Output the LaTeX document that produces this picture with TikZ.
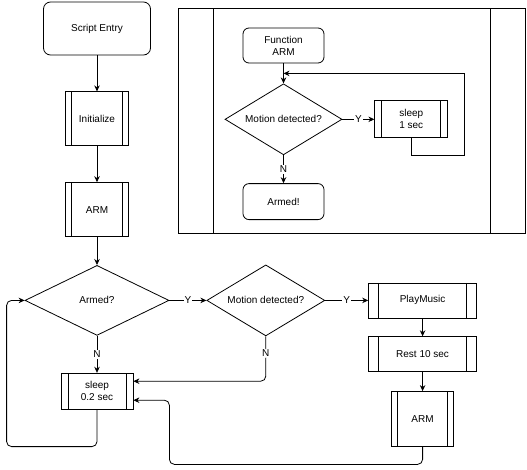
\documentclass[tikz,border=0pt]{standalone}
\usepackage{fontspec}
\setmainfont{Liberation Sans}
\usetikzlibrary{arrows.meta,positioning,shapes.geometric,calc}

\begin{document}
\begin{tikzpicture}[x=1pt, y=1pt, line width=0.8pt,
  font=\fontsize{10}{12}\selectfont,
  term/.style={draw, rounded corners=7pt, align=center, inner sep=0pt},
  proc/.style={draw, align=center, inner sep=0pt, path picture={
      \draw ([xshift=#1]path picture bounding box.north west) -- ([xshift=#1]path picture bounding box.south west);
      \draw ([xshift=-#1]path picture bounding box.north east) -- ([xshift=-#1]path picture bounding box.south east);}},
  proc/.default=6pt,
  cond/.style={draw, diamond, aspect=2, inner sep=0pt, align=center},
  arr/.style={-{Stealth[length=6pt,width=5.5pt]}},
  lbl/.style={fill=white, inner sep=1pt}
]
\useasboundingbox (0,0) rectangle (527,-469);

% main flow
\node[term, minimum width=107pt, minimum height=53pt] (entry) at (97,-28.5) {Script Entry};
\node[proc, below=36pt of entry, minimum width=63pt, minimum height=54pt] (init) {Initialize};
\node[proc, below=36pt of init, minimum width=63pt, minimum height=54pt] (arm) {ARM};
\node[cond, below=28pt of arm, minimum width=144pt, minimum height=70pt] (armed) {Armed?};
\node[proc=7pt, below=37pt of armed, minimum width=72pt, minimum height=36pt] (sleep) {sleep\\0.2 sec};
\node[cond, right=37pt of armed, minimum width=118pt, minimum height=71pt] (motion) {Motion detected?};
\node[proc=10pt, right=43pt of motion, minimum width=108pt, minimum height=35pt] (play) {PlayMusic};
\node[proc=10pt, below=18pt of play, minimum width=108pt, minimum height=35pt] (rest) {Rest 10 sec};
\node[proc, below=19pt of rest, minimum width=62pt, minimum height=55pt] (arm2) {ARM};

\draw[arr] (entry) -- (init);
\draw[arr] (init) -- (arm);
\draw[arr] (arm) -- (armed);
\draw[arr] (armed) -- node[lbl]{Y} (motion);
\draw[arr] (motion) -- node[lbl]{Y} (play);
\draw[arr] (play) -- (rest);
\draw[arr] (rest) -- (arm2);
\draw[arr] (armed) -- node[lbl]{N} (sleep);
\draw[arr, rounded corners=5pt] (motion.south) |- node[lbl, pos=0.19]{N} ([yshift=10pt]sleep.east);
\draw[arr, rounded corners=5pt] (sleep.south) -- ++(0,-37) -| ($(armed.west)+(-18,0)$) -- (armed.west);
\draw[arr, rounded corners=5pt] (arm2.south) -- ++(0,-17.5) -| ($(sleep.east)+(36,-9)$) -- ([yshift=-9pt]sleep.east);

% function ARM panel
\node[proc=35pt, minimum width=347pt, minimum height=225pt] (panel) at (351.5,-120.5) {};
\node[term, rounded corners=6pt, minimum width=81pt, minimum height=35pt] (fa) at (283.5,-45.5) {Function\\ARM};
\node[cond, below=20pt of fa, minimum width=117pt, minimum height=71pt] (md) {Motion detected?};
\node[proc=7pt, right=32pt of md, minimum width=73pt, minimum height=37pt] (s1) {sleep\\1 sec};
\node[term, rounded corners=6pt, below=28pt of md, minimum width=81pt, minimum height=36pt] (am) {Armed!};
\coordinate (loopin) at ($(fa.south)!0.5!(md.north)$);

\draw[arr] (fa) -- (md);
\draw[arr] (md) -- node[lbl]{Y} (s1);
\draw[arr] (md) -- node[lbl]{N} (am);
\draw[arr] (s1.south) |- ($(s1.south)+(53.5,-17.5)$) |- (loopin);
\end{tikzpicture}
\end{document}
